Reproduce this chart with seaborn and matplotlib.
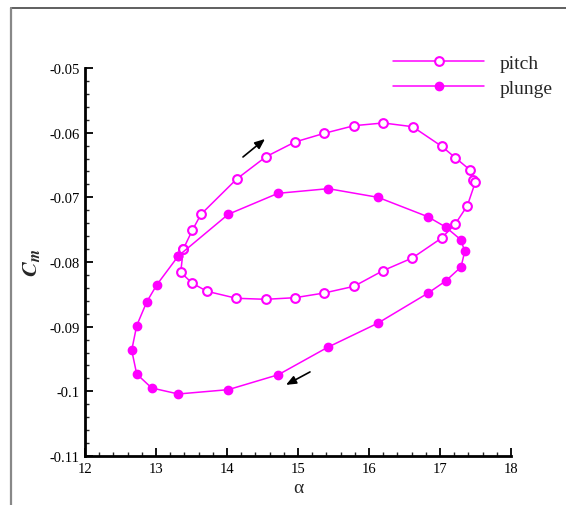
import matplotlib
matplotlib.use("Agg")
import matplotlib.pyplot as plt
import seaborn as sns
import pandas as pd
from matplotlib.lines import Line2D
from matplotlib.ticker import MultipleLocator, FuncFormatter

# ---- data ----
pitch_alpha = [13.385, 13.511, 13.634, 14.137, 14.549, 14.958, 15.370, 15.789, 16.201,
               16.615, 17.024, 17.215, 17.423, 17.461, 17.497, 17.385, 17.215, 17.024,
               16.610, 16.197, 15.789, 15.370, 14.958, 14.545, 14.131, 13.718, 13.511,
               13.348, 13.385]
pitch_cm = [-0.07799, -0.07510, -0.07262, -0.06716, -0.06372, -0.06144, -0.06010, -0.05892,
            -0.05850, -0.05908, -0.06211, -0.06387, -0.06577, -0.06727, -0.06767, -0.07129,
            -0.07412, -0.07629, -0.07938, -0.08134, -0.08376, -0.08479, -0.08552, -0.08577,
            -0.08561, -0.08453, -0.08329, -0.08159, -0.07799]

plunge_alpha = [13.314, 14.018, 14.718, 15.427, 16.127, 16.827, 17.080, 17.292, 17.349,
                17.296, 17.080, 16.827, 16.121, 15.418, 14.723, 14.018, 13.314, 12.939,
                12.728, 12.658, 12.728, 12.869, 13.010, 13.314]
plunge_cm = [-0.07907, -0.07262, -0.06938, -0.06866, -0.07000, -0.07299, -0.07459, -0.07655,
             -0.07834, -0.08077, -0.08294, -0.08484, -0.08948, -0.09319, -0.09743, -0.09974,
             -0.10041, -0.09948, -0.09732, -0.09365, -0.08985, -0.08618, -0.08355, -0.07907]

series_names = ["pitch", "plunge"]
x_ticks = [12, 13, 14, 15, 16, 17, 18]
y_ticks = [-0.11, -0.1, -0.09, -0.08, -0.07, -0.06, -0.05]

# direction arrows (tail -> head)
arrow_up = ((14.225, -0.06376), (14.535, -0.06098))
arrow_down = ((15.169, -0.0970), (14.831, -0.0990))

# ---- style ----
sns.set_style("ticks")
plt.rcParams["font.family"] = ["Liberation Serif", "DejaVu Serif"]
plt.rcParams["mathtext.fontset"] = "stix"
plt.rcParams["axes.unicode_minus"] = False

MAG = "#FF00FF"

fig = plt.figure(figsize=(5.66, 5.06), dpi=100)
ax = fig.add_axes([85 / 566, 1 - 457 / 506, 426 / 566, 388 / 506])

df_p = pd.DataFrame({"alpha": pitch_alpha, "cm": pitch_cm})
df_q = pd.DataFrame({"alpha": plunge_alpha, "cm": plunge_cm})

sns.lineplot(data=df_p, x="alpha", y="cm", sort=False, ax=ax, color=MAG, lw=1.1,
             marker="o", markersize=6.3, markerfacecolor="white", markeredgecolor=MAG,
             markeredgewidth=1.5, label=series_names[0], estimator=None)
sns.lineplot(data=df_q, x="alpha", y="cm", sort=False, ax=ax, color=MAG, lw=1.1,
             marker="o", markersize=6.0, markerfacecolor=MAG, markeredgecolor=MAG,
             markeredgewidth=1.0, label=series_names[1], estimator=None)

for (t, h) in (arrow_up, arrow_down):
    ax.annotate("", xy=h, xytext=t,
                arrowprops=dict(arrowstyle="-|>,head_length=0.6,head_width=0.25",
                                color="black", lw=1.2, shrinkA=0, shrinkB=0))

ax.set_xlim(12, 18)
ax.set_ylim(-0.11, -0.05)
ax.set_xticks(x_ticks)
ax.set_yticks(y_ticks)
ax.xaxis.set_minor_locator(MultipleLocator(0.2))
ax.yaxis.set_minor_locator(MultipleLocator(0.002))
ax.yaxis.set_major_formatter(FuncFormatter(lambda v, p: f"{v:g}"))
ax.xaxis.set_major_formatter(FuncFormatter(lambda v, p: f"{v:g}"))

for s in ["top", "right"]:
    ax.spines[s].set_visible(False)
for s in ["left", "bottom"]:
    ax.spines[s].set_linewidth(2)
    ax.spines[s].set_color("black")

ax.tick_params(which="major", direction="in", length=6, width=1.3, labelsize=10.5, pad=4,
               colors="black")
ax.tick_params(which="minor", direction="in", length=3, width=1.0)

ax.set_xlabel("α", fontsize=14)
ax.set_ylabel(r"$\mathbfit{C}_{\mathbfit{m}}$", fontsize=16)
ax.xaxis.set_label_coords(0.5, -0.06)
ax.yaxis.set_label_coords(-0.1, 0.5)

leg = ax.legend(loc="upper left", bbox_to_anchor=(393 / 566, 1 - 55 / 506),
                bbox_transform=fig.transFigure, frameon=False, fontsize=14,
                handlelength=4.7, handletextpad=0.8, borderpad=0, borderaxespad=0,
                labelspacing=0.38, numpoints=1)

# figure frame lines
fig.add_artist(Line2D([11 / 566, 1.0], [1 - 9 / 506, 1 - 9 / 506], transform=fig.transFigure,
                      color="#444444", lw=1.2))
fig.add_artist(Line2D([11 / 566, 11 / 566], [0, 1 - 9 / 506], transform=fig.transFigure,
                      color="#888888", lw=1.6))

fig.savefig("out.png", dpi=100)
